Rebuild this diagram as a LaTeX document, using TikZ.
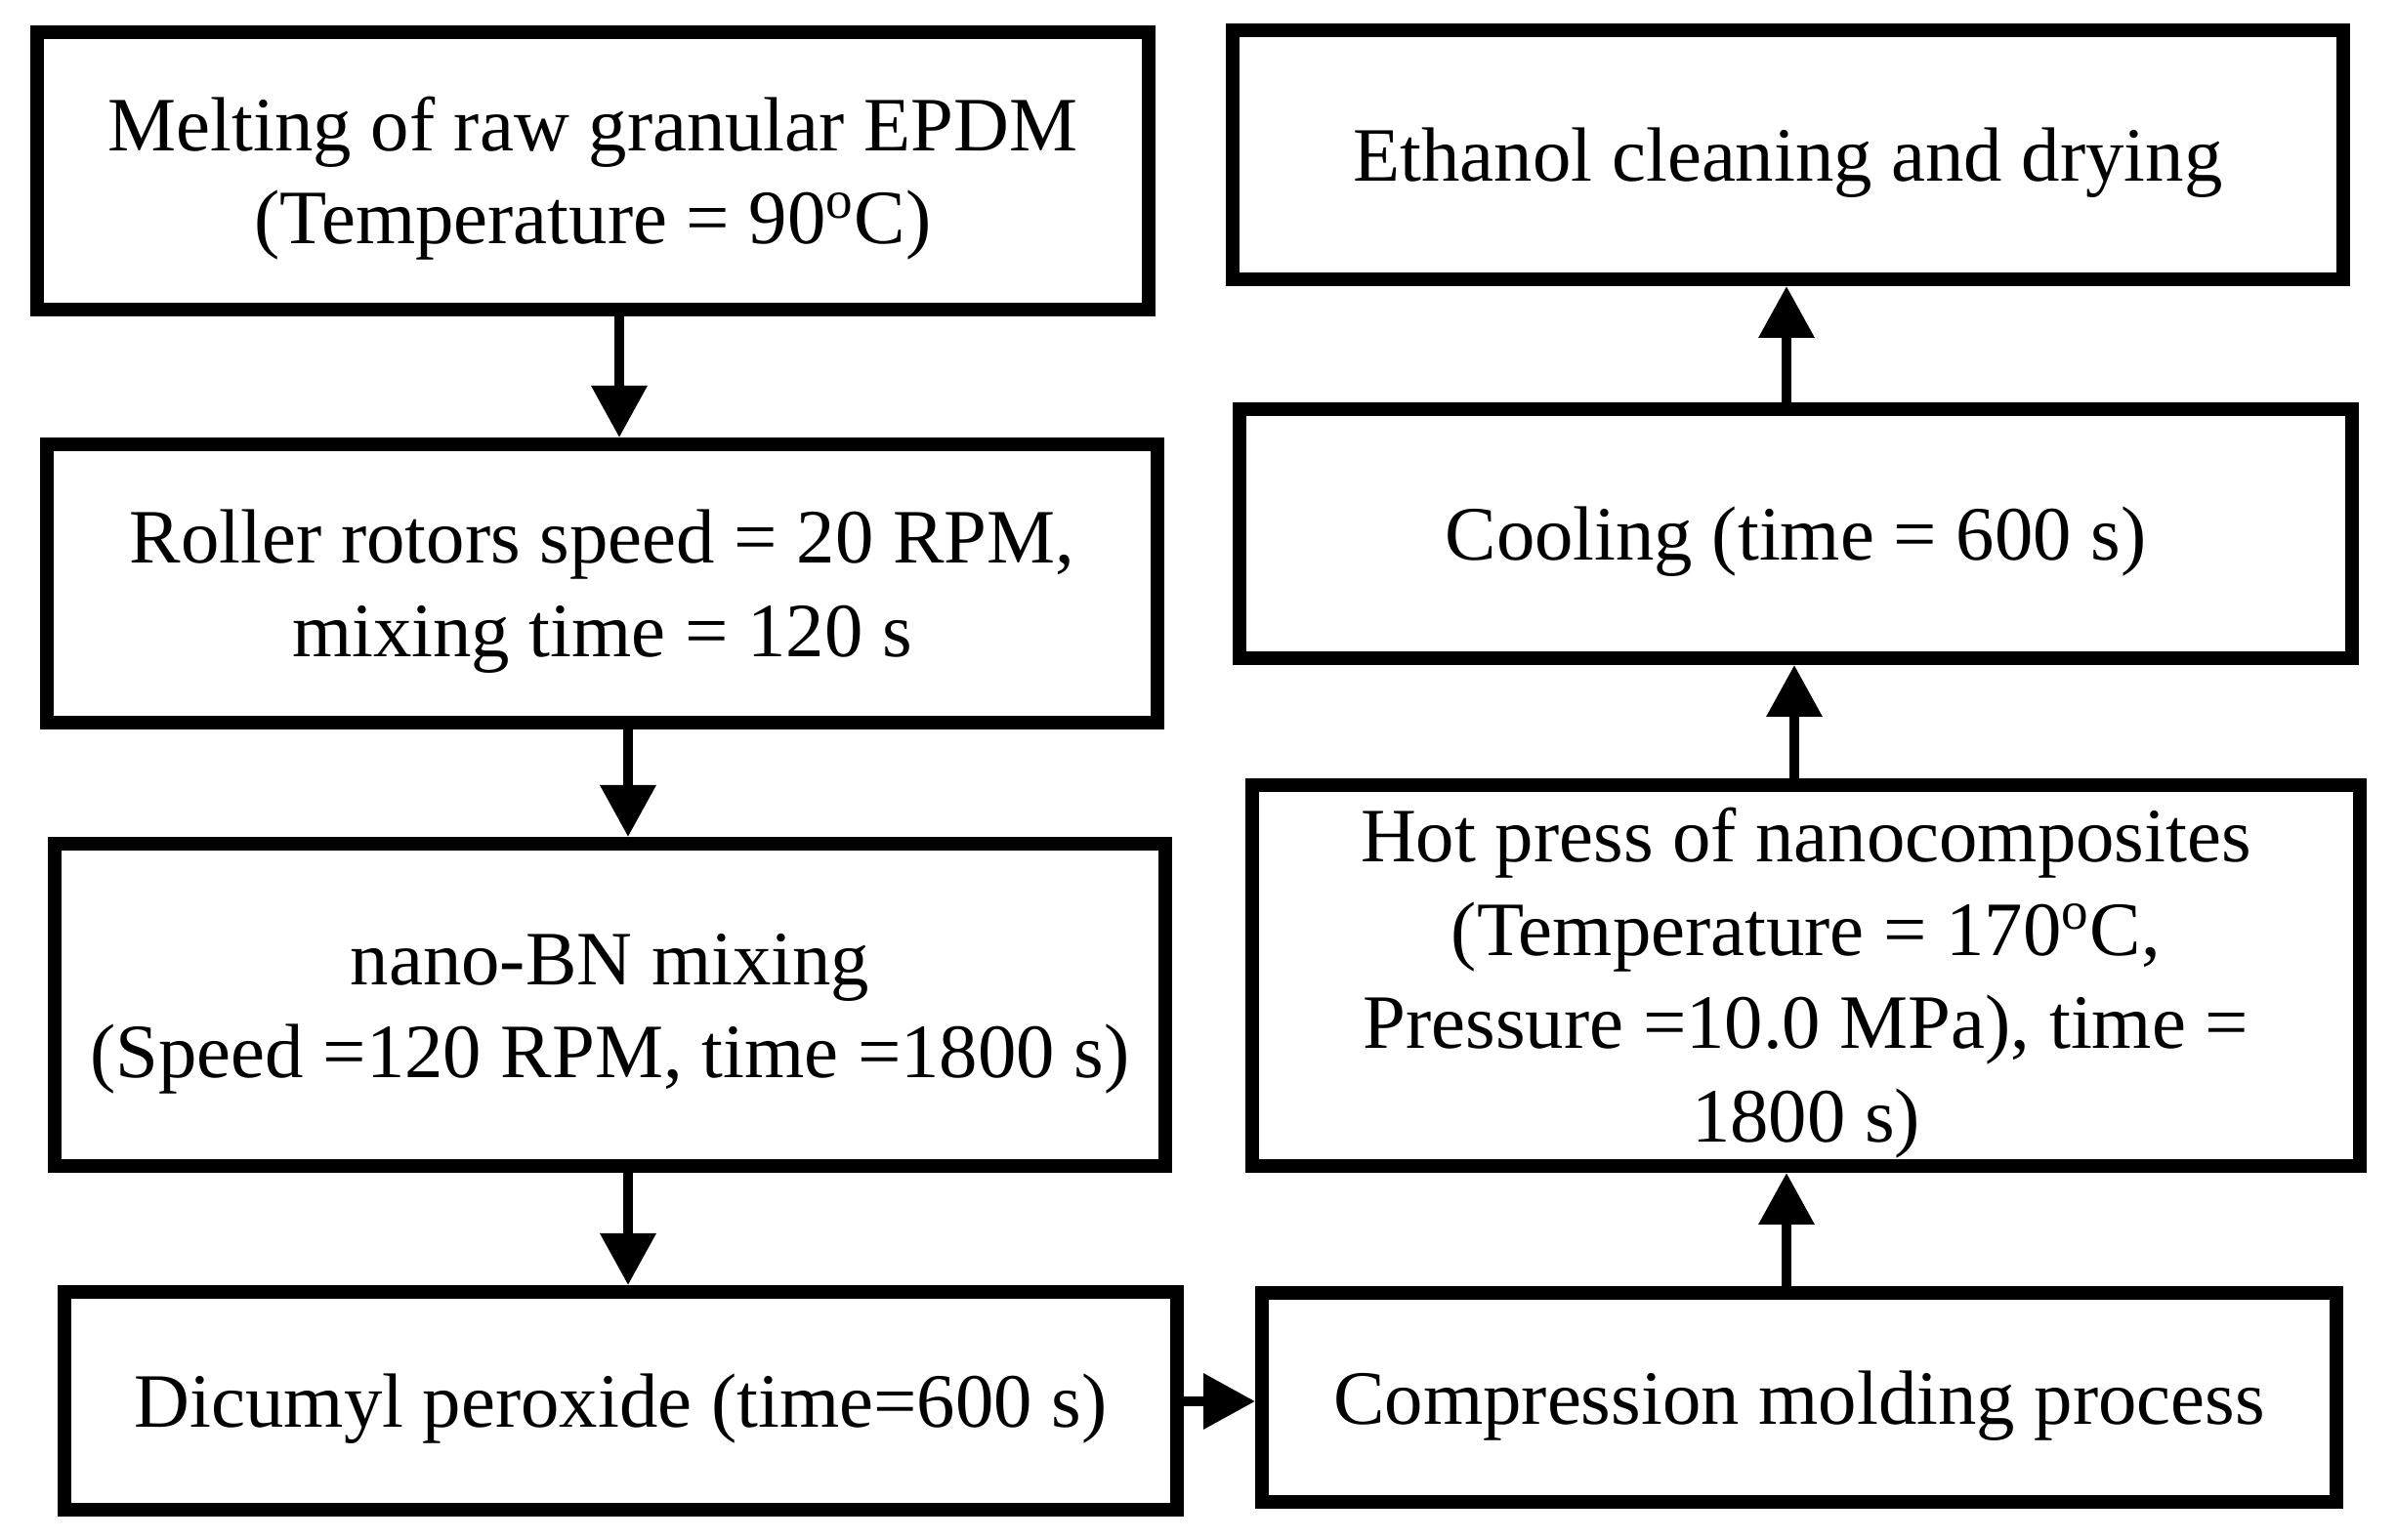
\documentclass[tikz,border=0pt]{standalone}
\usepackage{fontspec}
\setmainfont{Liberation Serif}
\usetikzlibrary{arrows.meta}
\newcommand{\tstrut}{\rule{0pt}{0.71cm}}
\tikzset{
  box/.style={draw=black, line width=0.14cm, fill=white, align=center, inner sep=0pt,
    font=\fontsize{22.4}{27.2}\selectfont},
  arr/.style={line width=0.1cm, -{Triangle[length=0.53cm, width=0.55cm]}}
}
\begin{document}
\begin{tikzpicture}[x=1cm,y=1cm]
\useasboundingbox (0,0) rectangle (24.53,-15.77);
% left column
\node[box, minimum width=11.38cm, minimum height=2.84cm] (b1) at (6.07,-1.75)
  {\tstrut Melting of raw granular EPDM\\(Temperature = 90\textsuperscript{o}C)};
\node[box, minimum width=11.37cm, minimum height=2.85cm] (b2) at (6.165,-5.975)
  {\tstrut Roller rotors speed = 20 RPM,\\mixing time = 120 s};
\node[box, minimum width=11.37cm, minimum height=3.30cm] (b3) at (6.245,-10.29)
  {\tstrut nano-BN mixing\\(Speed =120 RPM, time =1800 s)};
\node[box, minimum width=11.39cm, minimum height=2.23cm] (b4) at (6.355,-14.345)
  {\tstrut Dicumyl peroxide (time=600 s)};
% right column
\node[box, minimum width=11.00cm, minimum height=2.14cm] (b5) at (18.42,-14.31)
  {\tstrut Compression molding process};
\node[box, minimum width=11.34cm, minimum height=3.90cm] (b6) at (18.49,-9.99)
  {\tstrut Hot press of nanocomposites\\(Temperature = 170\textsuperscript{o}C,\\Pressure =10.0 MPa), time =\\1800 s)};
\node[box, minimum width=11.39cm, minimum height=2.55cm] (b7) at (18.385,-5.465)
  {\tstrut Cooling (time = 600 s)};
\node[box, minimum width=11.37cm, minimum height=2.55cm] (b8) at (18.305,-1.585)
  {\tstrut Ethanol cleaning and drying};
% connectors
\draw[arr] (6.34,0 |- b1.south) -- (6.34,0 |- b2.north);
\draw[arr] (6.43,0 |- b2.south) -- (6.43,0 |- b3.north);
\draw[arr] (6.43,0 |- b3.south) -- (6.43,0 |- b4.north);
\draw[arr] (b4.east |- 0,-14.35) -- (b5.west |- 0,-14.35);
\draw[arr] (18.29,0 |- b5.north) -- (18.29,0 |- b6.south);
\draw[arr] (18.37,0 |- b6.north) -- (18.37,0 |- b7.south);
\draw[arr] (18.29,0 |- b7.north) -- (18.29,0 |- b8.south);
\end{tikzpicture}
\end{document}
